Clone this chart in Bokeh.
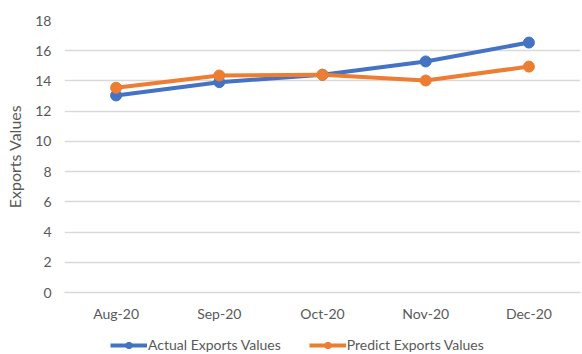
from bokeh.plotting import figure
from bokeh.layouts import column
from bokeh.models import FactorRange, Range1d, FixedTicker, Legend, LegendItem
from bokeh.embed import file_html
from bokeh.resources import INLINE

months = ["Aug-20", "Sep-20", "Oct-20", "Nov-20", "Dec-20"]
actual = [13.04, 13.92, 14.41, 15.29, 16.54]
predict = [13.55, 14.36, 14.41, 14.03, 14.95]
y_ticks = [0, 2, 4, 6, 8, 10, 12, 14, 16, 18]
series_names = ["Actual Exports Values", "Predict Exports Values"]

BLUE = "#4472C4"
ORANGE = "#ED7D31"
FONT = "Lato"
GRAY = "#595959"

p = figure(width=582, height=326, x_range=FactorRange(*months), y_range=Range1d(0, 18),
           output_backend="svg", toolbar_location=None,
           min_border_left=64, min_border_right=2, min_border_top=20, min_border_bottom=34)
p.outline_line_color = None
p.background_fill_color = "white"

p.line(months, actual, line_color=BLUE, line_width=4)
p.scatter(months, actual, size=11, fill_color=BLUE, line_color=BLUE)
p.line(months, predict, line_color=ORANGE, line_width=4)
p.scatter(months, predict, size=11, fill_color=ORANGE, line_color=ORANGE)

p.xgrid.grid_line_color = None
p.ygrid.grid_line_color = "#d9d9d9"
p.ygrid.grid_line_width = 1.5
p.yaxis.ticker = FixedTicker(ticks=y_ticks)
p.yaxis.axis_line_color = None
p.yaxis.major_tick_line_color = None
p.yaxis.major_tick_out = 0
p.yaxis.minor_tick_line_color = None
p.yaxis.minor_tick_out = 0
p.yaxis.major_label_text_font = FONT
p.yaxis.major_label_text_font_size = "14px"
p.yaxis.major_label_text_color = GRAY
p.yaxis.major_label_standoff = 13
p.yaxis.axis_label = "Exports Values"
p.yaxis.axis_label_text_font = FONT
p.yaxis.axis_label_text_font_size = "16px"
p.yaxis.axis_label_text_font_style = "normal"
p.yaxis.axis_label_text_color = GRAY
p.yaxis.axis_label_standoff = 8

p.xaxis.axis_line_color = "#d9d9d9"
p.xaxis.axis_line_width = 1.5
p.xaxis.major_tick_line_color = None
p.xaxis.major_tick_out = 0
p.xaxis.minor_tick_line_color = None
p.xaxis.minor_tick_out = 0
p.xaxis.major_label_text_font = FONT
p.xaxis.major_label_text_font_size = "14px"
p.xaxis.major_label_text_color = GRAY
p.xaxis.major_label_standoff = 12

# legend strip below the chart (its renderers sit outside the strip's visible range)
q = figure(width=582, height=28, x_range=FactorRange(*months), y_range=Range1d(100, 101),
           output_backend="svg", toolbar_location=None,
           min_border=0, min_border_left=0, min_border_right=0, min_border_top=0, min_border_bottom=0)
q.axis.visible = False
q.grid.visible = False
q.outline_line_color = None
r1 = q.line(months, actual, line_color=BLUE, line_width=4)
s1 = q.scatter(months, actual, size=11, fill_color=BLUE, line_color=BLUE)
r2 = q.line(months, predict, line_color=ORANGE, line_width=4)
s2 = q.scatter(months, predict, size=11, fill_color=ORANGE, line_color=ORANGE)

legend = Legend(items=[LegendItem(label=series_names[0], renderers=[r1, s1]),
                       LegendItem(label=series_names[1], renderers=[r2, s2])],
                orientation="horizontal", location=(46, 1))
legend.label_text_font = FONT
legend.label_text_font_size = "14px"
legend.label_text_color = GRAY
legend.border_line_color = None
legend.background_fill_alpha = 0
legend.glyph_width = 37
legend.glyph_height = 16
legend.label_standoff = 1
legend.spacing = 28
legend.padding = 1
legend.margin = 0
q.add_layout(legend)

layout = column(p, q, spacing=0)
open("out.html", "w").write(file_html(layout, INLINE))
